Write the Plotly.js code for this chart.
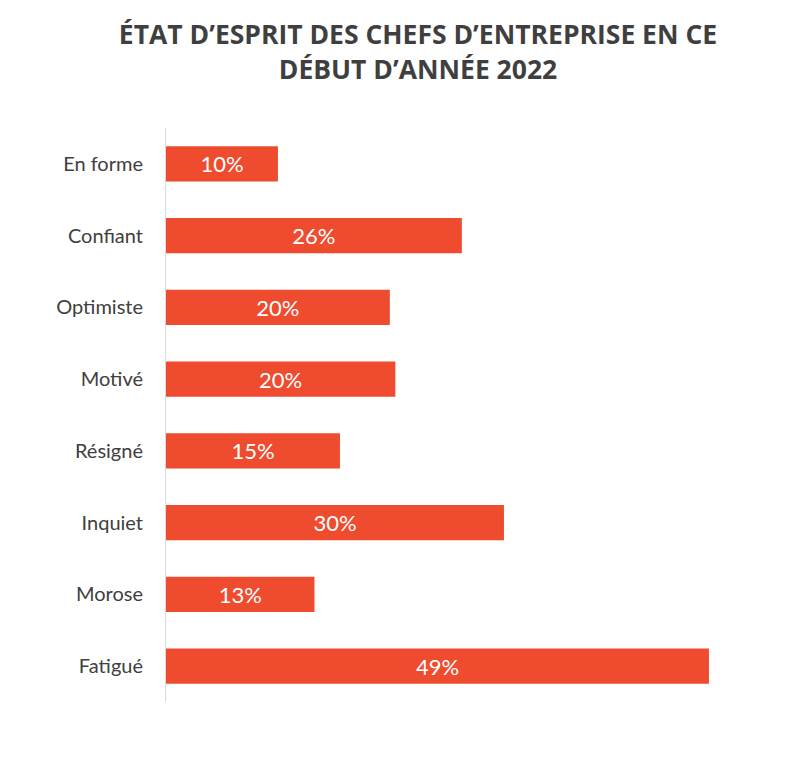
<!DOCTYPE html>
<html><head><meta charset="utf-8">
<script src="https://cdn.plot.ly/plotly-3.0.1.min.js"></script>
<style>body{margin:0;background:#fff}#c{width:800px;height:762px}</style>
</head><body><div id="c"></div>
<script>
const categories = ["En forme","Confiant","Optimiste","Motivé","Résigné","Inquiet","Morose","Fatigué"];
const values = [10.1, 26.7, 20.2, 20.7, 15.7, 30.5, 13.4, 49.0];
const labels = ["10%","26%","20%","20%","15%","30%","13%","49%"];

Plotly.newPlot("c", [{
  type: "bar", orientation: "h",
  x: values, y: categories,
  text: labels, textposition: "inside", insidetextanchor: "middle",
  textfont: {color: "#ffffff", size: 22, family: "Lato, sans-serif"},
  marker: {color: "#EE4B2F"},
  hoverinfo: "none", cliponaxis: false
}], {
  width: 800, height: 762,
  paper_bgcolor: "#fff", plot_bgcolor: "#fff",
  margin: {l: 166, r: 34, t: 128, b: 60},
  bargap: 0.51,
  title: {text: "ÉTAT D’ESPRIT DES CHEFS D’ENTREPRISE EN CE<br>DÉBUT D’ANNÉE 2022",
    x: 0.5225, xanchor: "center", y: 0.942, yanchor: "top",
    font: {family: "Open Sans, sans-serif", size: 26.5, color: "#3f3f3f", weight: 700}},
  xaxis: {range: [0, 54.15], visible: false, fixedrange: true},
  yaxis: {autorange: "reversed", showline: true, linecolor: "#d9d9d9", linewidth: 1,
    ticks: "", ticklen: 0, ticklabelstandoff: 18, showgrid: false, zeroline: false,
    tickfont: {family: "Lato, sans-serif", size: 20, color: "#404040"}},
  showlegend: false
}, {displayModeBar: false, staticPlot: true});
</script></body></html>
